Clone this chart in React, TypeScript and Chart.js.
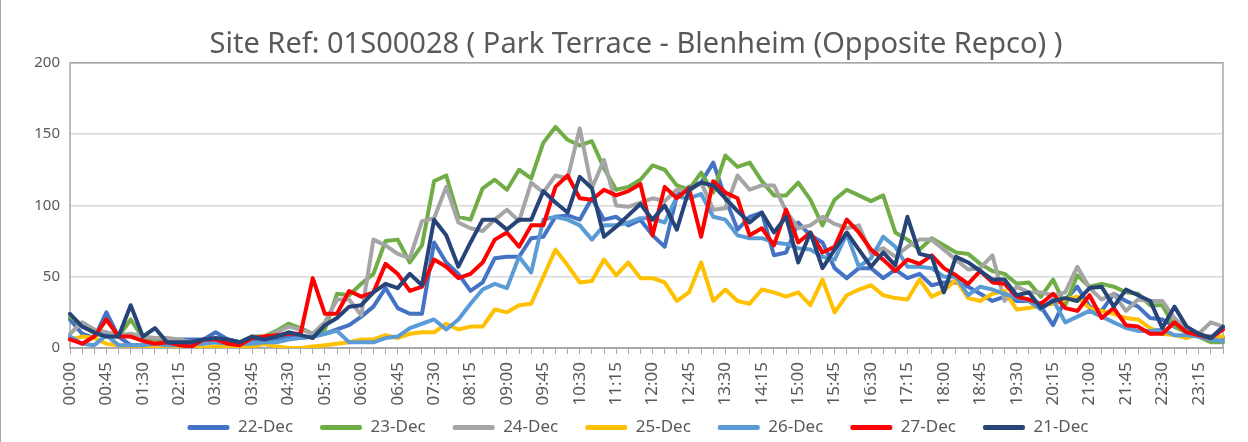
import React, { useEffect, useRef } from "react";
import { Chart, registerables } from "chart.js";

Chart.register(...registerables);

const titleText = "Site Ref: 01S00028 ( Park Terrace - Blenheim (Opposite Repco) )";

const timeLabels = [
  "00:00", "00:15", "00:30", "00:45", "01:00", "01:15", "01:30", "01:45",
  "02:00", "02:15", "02:30", "02:45", "03:00", "03:15", "03:30", "03:45",
  "04:00", "04:15", "04:30", "04:45", "05:00", "05:15", "05:30", "05:45",
  "06:00", "06:15", "06:30", "06:45", "07:00", "07:15", "07:30", "07:45",
  "08:00", "08:15", "08:30", "08:45", "09:00", "09:15", "09:30", "09:45",
  "10:00", "10:15", "10:30", "10:45", "11:00", "11:15", "11:30", "11:45",
  "12:00", "12:15", "12:30", "12:45", "13:00", "13:15", "13:30", "13:45",
  "14:00", "14:15", "14:30", "14:45", "15:00", "15:15", "15:30", "15:45",
  "16:00", "16:15", "16:30", "16:45", "17:00", "17:15", "17:30", "17:45",
  "18:00", "18:15", "18:30", "18:45", "19:00", "19:15", "19:30", "19:45",
  "20:00", "20:15", "20:30", "20:45", "21:00", "21:15", "21:30", "21:45",
  "22:00", "22:15", "22:30", "22:45", "23:00", "23:15", "23:30", "23:45",
];

const yTicks = [0, 50, 100, 150, 200];

const dec22 = [
  20, 10, 7, 25, 8, 2, 2, 2, 3, 6, 6, 6, 11, 6, 4, 6,
  5, 6, 8, 7, 8, 10, 13, 16, 22, 29, 42, 28, 24, 24, 74, 60,
  52, 40, 46, 63, 64, 64, 77, 78, 92, 93, 90, 105, 90, 92, 86, 90,
  79, 71, 107, 113, 116, 130, 105, 83, 92, 95, 65, 67, 88, 79, 74, 56,
  49, 56, 56, 49, 55, 49, 52, 44, 46, 46, 43, 38, 33, 36, 33, 33,
  29, 16, 34, 43, 29, 26, 38, 33, 29, 21, 20, 15, 11, 9, 8, 7,
];

const dec23 = [
  22, 16, 10, 8, 8, 20, 7, 6, 4, 3, 2, 3, 6, 5, 4, 8,
  8, 12, 17, 14, 10, 13, 38, 37, 45, 52, 75, 76, 60, 72, 117, 121,
  92, 90, 112, 118, 111, 125, 119, 144, 155, 146, 142, 145, 126, 111, 113, 118,
  128, 125, 114, 111, 123, 109, 135, 127, 130, 117, 107, 107, 116, 104, 86, 104,
  111, 107, 103, 107, 81, 76, 69, 77, 72, 67, 66, 59, 54, 52, 45, 46,
  36, 48, 30, 51, 43, 45, 43, 39, 38, 30, 30, 15, 11, 8, 4, 4,
];

const dec24 = [
  10, 18, 13, 11, 9, 10, 8, 7, 7, 6, 4, 4, 4, 3, 4, 8,
  7, 11, 15, 13, 10, 18, 34, 34, 23, 76, 72, 66, 63, 89, 91, 113,
  88, 84, 82, 90, 97, 89, 116, 109, 121, 119, 154, 112, 132, 100, 99, 102,
  105, 103, 111, 110, 116, 97, 98, 121, 111, 114, 114, 96, 84, 86, 92, 87,
  84, 86, 66, 70, 64, 71, 76, 76, 69, 62, 55, 56, 65, 33, 43, 39,
  39, 37, 39, 57, 42, 34, 38, 26, 34, 33, 33, 21, 13, 10, 18, 15,
];

const dec25 = [
  6, 8, 7, 3, 2, 1, 1, 1, 1, 1, 1, 0, 1, 1, 0, 1,
  3, 1, 0, 0, 1, 2, 3, 4, 6, 6, 9, 7, 10, 11, 11, 17,
  13, 15, 15, 27, 25, 30, 31, 50, 69, 58, 46, 47, 62, 51, 60, 49,
  49, 46, 33, 39, 60, 33, 41, 33, 31, 41, 39, 36, 39, 30, 48, 25,
  37, 41, 44, 37, 35, 34, 48, 36, 40, 48, 35, 33, 38, 40, 27, 28,
  30, 31, 34, 36, 28, 26, 24, 21, 20, 14, 10, 9, 7, 10, 7, 8,
];

const dec26 = [
  8, 3, 2, 9, 2, 2, 2, 3, 2, 2, 3, 3, 4, 3, 3, 3,
  4, 4, 6, 7, 8, 10, 12, 4, 4, 4, 7, 8, 14, 17, 20, 13,
  20, 31, 41, 45, 42, 64, 53, 90, 92, 90, 86, 76, 86, 86, 88, 91,
  91, 88, 106, 105, 108, 92, 90, 79, 77, 77, 74, 73, 70, 69, 64, 62,
  80, 57, 63, 78, 71, 57, 57, 56, 50, 50, 37, 43, 41, 38, 35, 33,
  27, 34, 18, 22, 26, 22, 18, 14, 12, 12, 13, 9, 9, 8, 6, 5,
];

const dec27 = [
  6, 3, 8, 20, 8, 8, 5, 3, 4, 2, 1, 6, 6, 3, 2, 7,
  8, 9, 10, 10, 49, 24, 24, 40, 36, 39, 59, 52, 40, 43, 62, 57,
  49, 52, 60, 76, 81, 71, 86, 86, 113, 121, 105, 104, 111, 107, 110, 115,
  79, 113, 105, 112, 78, 117, 109, 105, 79, 84, 72, 97, 74, 81, 67, 71,
  90, 81, 69, 62, 54, 62, 59, 65, 56, 51, 45, 54, 46, 45, 36, 34,
  31, 38, 28, 26, 37, 21, 28, 16, 15, 10, 10, 18, 11, 9, 7, 13,
];

const dec21 = [
  24, 15, 11, 8, 8, 30, 8, 14, 4, 4, 4, 6, 7, 6, 4, 8,
  6, 8, 11, 9, 7, 16, 21, 29, 30, 39, 45, 42, 52, 44, 90, 79,
  57, 74, 90, 90, 83, 90, 90, 110, 102, 95, 120, 112, 78, 85, 93, 101,
  90, 100, 83, 111, 116, 114, 105, 96, 88, 95, 81, 92, 60, 81, 56, 69,
  81, 69, 57, 67, 58, 92, 66, 64, 39, 64, 60, 54, 48, 48, 37, 39,
  28, 33, 35, 33, 42, 43, 29, 41, 37, 33, 14, 29, 15, 10, 7, 15,
];

const seriesNames = ["22-Dec", "23-Dec", "24-Dec", "25-Dec", "26-Dec", "27-Dec", "21-Dec"];
const seriesValues = [dec22, dec23, dec24, dec25, dec26, dec27, dec21];
const seriesColors = ["#4472C4", "#70AD47", "#A5A5A5", "#FFC000", "#5B9BD5", "#FF0000", "#264478"];

const FONT = "'Noto Sans', 'DejaVu Sans', sans-serif";
const TEXT = "#595959";

const framePlugin = {
  id: "frame",
  afterLayout(chart: any) {
    const x = chart.scales.x;
    if (x) x.bottom = chart.height;
    const t = chart.titleBlock;
    if (t) t.left += 32;
    const l = chart.legend;
    if (l) {
      l.left += 36;
      l.top += 4;
      l.bottom += 4;
    }
  },
  beforeDatasetsDraw(chart: any) {
    const { ctx, chartArea: a } = chart;
    ctx.save();
    ctx.strokeStyle = "#A6A6A6";
    ctx.lineWidth = 1.5;
    ctx.strokeRect(a.left, a.top, a.right - a.left, a.bottom - a.top);
    ctx.restore();
  },
  afterDraw(chart: any) {
    const { ctx, height } = chart;
    ctx.save();
    ctx.strokeStyle = "#A6A6A6";
    ctx.lineWidth = 1;
    ctx.beginPath();
    ctx.moveTo(0.5, 0);
    ctx.lineTo(0.5, height);
    ctx.stroke();
    ctx.restore();
  },
};

export default function App() {
  const ref = useRef<HTMLCanvasElement>(null);

  useEffect(() => {
    if (!ref.current) return;
    Chart.defaults.font.family = FONT;
    const chart = new Chart(ref.current, {
      type: "line",
      data: {
        labels: timeLabels,
        datasets: seriesNames.map((name, i) => ({
          label: name,
          data: seriesValues[i],
          borderColor: seriesColors[i],
          backgroundColor: seriesColors[i],
          borderWidth: 4,
          pointRadius: 0,
          pointHoverRadius: 0,
          tension: 0,
          borderJoinStyle: "round" as const,
          borderCapStyle: "round" as const,
          order: seriesNames.length - 1 - i,
        })),
      },
      options: {
        responsive: false,
        animation: false,
        devicePixelRatio: 1,
        layout: { padding: { left: 0, right: 8, top: 0, bottom: 0 } },
        plugins: {
          title: {
            display: true,
            text: titleText,
            color: TEXT,
            font: { family: FONT, size: 29, weight: "normal", lineHeight: 1.2 },
            padding: { top: 27, bottom: 1 },
          },
          legend: {
            position: "bottom",
            labels: {
              boxWidth: 42,
              boxHeight: 5,
              padding: 27,
              color: TEXT,
              font: { family: FONT, size: 17 },
              useBorderRadius: true,
              borderRadius: 2,
              sort: (a: any, b: any) => a.datasetIndex - b.datasetIndex,
              generateLabels: (c: any) =>
                Chart.defaults.plugins.legend.labels
                  .generateLabels(c)
                  .map((l: any) => ({ ...l, lineWidth: 0 })),
            },
          },
          tooltip: { enabled: false },
        },
        scales: {
          x: {
            type: "category",
            offset: false,
            grid: {
              display: true,
              drawOnChartArea: false,
              drawTicks: true,
              tickLength: 6,
              color: "#A6A6A6",
              lineWidth: 1,
            },
            border: { display: true, color: "#A6A6A6", width: 1.5 },
            ticks: {
              autoSkip: false,
              maxRotation: 90,
              minRotation: 90,
              padding: 8,
              color: TEXT,
              font: { family: FONT, size: 17, lineHeight: 1 },
              callback: (_v: any, i: number) => (i % 3 === 0 ? timeLabels[i] : ""),
            },
            afterFit: (s: any) => {
              s.height = 40;
            },
          },
          y: {
            min: yTicks[0],
            max: yTicks[yTicks.length - 1],
            ticks: {
              stepSize: yTicks[1] - yTicks[0],
              padding: 10,
              color: TEXT,
              font: { family: FONT, size: 15 },
            },
            grid: { color: "#D9D9D9", lineWidth: 1.5, drawTicks: false },
            border: { display: false },
            afterFit: (s: any) => {
              s.width = 70;
            },
          },
        },
      },
      plugins: [framePlugin],
    });
    return () => chart.destroy();
  }, []);

  return (
    <div style={{ position: "absolute", left: 0, top: 0, width: 1248, height: 442, background: "#fff" }}>
      <canvas ref={ref} width={1248} height={442} style={{ display: "block", width: 1248, height: 442 }} />
    </div>
  );
}
